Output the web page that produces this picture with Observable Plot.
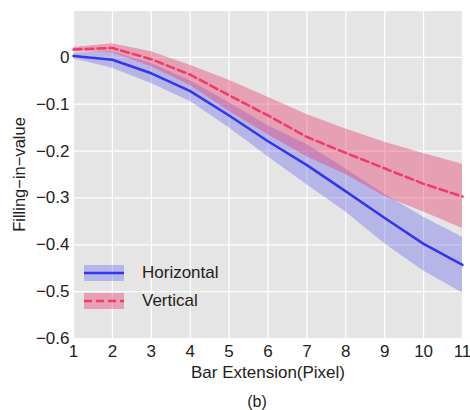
<!DOCTYPE html>
<html><head><meta charset="utf-8">
<script src="https://cdn.jsdelivr.net/npm/d3@7"></script>
<script src="https://cdn.jsdelivr.net/npm/@observablehq/plot@0.6"></script>
<style>
body{margin:0;background:#fff;font-family:"Liberation Sans",Arial,sans-serif}
#wrap{position:relative;width:470px;height:410px;overflow:hidden}
#legend{position:absolute;left:84px;top:265px;font-size:17px;color:#222}
.row{display:flex;align-items:center;height:16px;margin-bottom:12px}
.row svg{margin-right:18px}
#cap{position:absolute;left:257px;top:393px;transform:translateX(-50%);font-size:16px;line-height:18px;color:#222}
</style></head><body><div id="wrap"></div>
<script>
const extension = [1, 2, 3, 4, 5, 6, 7, 8, 9, 10, 11];
const horizontal     = [0.003, -0.005, -0.034, -0.072, -0.124, -0.179, -0.230, -0.286, -0.343, -0.398, -0.443];
const horizontalLow  = [-0.003, -0.023, -0.056, -0.094, -0.150, -0.212, -0.272, -0.330, -0.398, -0.456, -0.503];
const horizontalHigh = [0.009, 0.012, -0.013, -0.050, -0.097, -0.146, -0.186, -0.238, -0.292, -0.341, -0.384];
const vertical     = [0.017, 0.020, -0.004, -0.037, -0.081, -0.124, -0.170, -0.204, -0.237, -0.270, -0.297];
const verticalLow  = [0.012, 0.010, -0.020, -0.060, -0.115, -0.165, -0.212, -0.250, -0.297, -0.330, -0.365];
const verticalHigh = [0.021, 0.029, 0.012, -0.017, -0.049, -0.085, -0.122, -0.153, -0.181, -0.205, -0.228];
const xTicks = [1, 2, 3, 4, 5, 6, 7, 8, 9, 10, 11];
const yTicks = [-0.6, -0.5, -0.4, -0.3, -0.2, -0.1, 0];
const yGrid = [-0.6, -0.5, -0.4, -0.3, -0.2, -0.1, 0, 0.1];
const seriesNames = ["Horizontal", "Vertical"];
const xLabel = "Bar Extension(Pixel)";
const yLabel = "Filling\u2212in\u2212value";
const caption = "(b)";

const blueLine = "#3535ee", blueFill = "#4646ee";
const pinkLine = "#f03a6a", pinkFill = "#e8396a";

const rows = extension.map((x, i) => ({
  x, h: horizontal[i], hl: horizontalLow[i], hh: horizontalHigh[i],
  v: vertical[i], vl: verticalLow[i], vh: verticalHigh[i]
}));

const fmt = d => d === 0 ? "0" : "\u2212" + Math.abs(d).toFixed(1);

const chart = Plot.plot({
  width: 470, height: 385,
  marginLeft: 73, marginRight: 8, marginTop: 10, marginBottom: 47,
  style: {fontFamily: "'Liberation Sans', Arial, sans-serif", fontSize: "17px", color: "#222", background: "transparent"},
  x: {domain: [1, 11]},
  y: {domain: [-0.6, 0.1]},
  marks: [
    Plot.frame({fill: "#e5e5e5", stroke: null}),
    Plot.gridX(xTicks, {stroke: "#fff", strokeOpacity: 1, strokeWidth: 1.2}),
    Plot.gridY(yGrid, {stroke: "#fff", strokeOpacity: 1, strokeWidth: 1.2}),
    Plot.areaY(rows, {x: "x", y1: "hl", y2: "hh", fill: blueFill, fillOpacity: 0.3}),
    Plot.areaY(rows, {x: "x", y1: "vl", y2: "vh", fill: pinkFill, fillOpacity: 0.4}),
    Plot.lineY(rows, {x: "x", y: "h", stroke: blueLine, strokeWidth: 2.5}),
    Plot.lineY(rows, {x: "x", y: "v", stroke: pinkLine, strokeWidth: 2.5, strokeDasharray: "8,4"}),
    Plot.axisX(xTicks, {tickSize: 0, tickPadding: 6, label: null, fontSize: 17}),
    Plot.axisY(yTicks, {tickSize: 0, tickPadding: 4, tickFormat: fmt, label: null, fontSize: 17}),
    Plot.text([xLabel], {text: d => d, frameAnchor: "bottom", textAnchor: "middle", lineAnchor: "middle", dy: 34, fontSize: 17, fill: "#222"}),
    Plot.text([yLabel], {text: d => d, frameAnchor: "left", textAnchor: "middle", lineAnchor: "middle", rotate: -90, dx: -54, fontSize: 16.5, fill: "#222"})
  ]
});

const wrap = document.getElementById("wrap");
wrap.appendChild(chart);

const legend = document.createElement("div");
legend.id = "legend";
const styles = [
  {line: blueLine, fill: blueFill, op: 0.3, dash: null},
  {line: pinkLine, fill: pinkFill, op: 0.4, dash: "8,4"}
];
seriesNames.forEach((name, i) => {
  const s = styles[i];
  const row = document.createElement("div");
  row.className = "row";
  row.innerHTML = `<svg width="40" height="16"><rect x="0" y="0" width="40" height="16" fill="${s.fill}" fill-opacity="${s.op}"></rect><line x1="0" x2="40" y1="8" y2="8" stroke="${s.line}" stroke-width="2.5" ${s.dash ? `stroke-dasharray="${s.dash}"` : ""}></line></svg><span>${name}</span>`;
  legend.appendChild(row);
});
wrap.appendChild(legend);

const cap = document.createElement("div");
cap.id = "cap";
cap.textContent = caption;
wrap.appendChild(cap);
</script>
</body></html>
